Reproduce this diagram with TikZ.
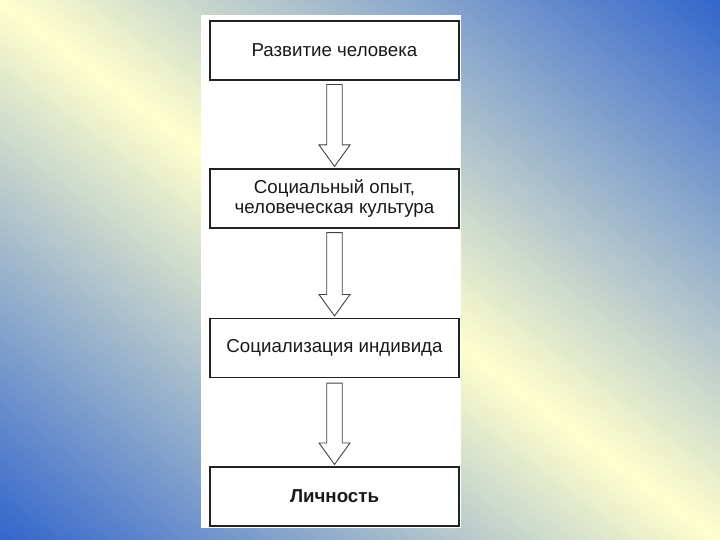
\documentclass[tikz,border=0pt]{standalone}
\usepackage{fontspec}
\setmainfont{Liberation Sans}
\usetikzlibrary{calc}
\definecolor{yel}{RGB}{255,255,204}
\definecolor{blu}{RGB}{51,102,204}
\definecolor{edge}{RGB}{34,34,34}
\definecolor{ink}{RGB}{25,25,25}
\tikzset{
  box/.style={draw=edge, line width=1.1pt, fill=white, minimum width=249pt, minimum height=59pt,
    inner sep=0pt, align=center, text=ink, font=\fontsize{18.7}{19.5}\selectfont},
  arr/.style={draw=edge!85, line width=0.9pt, fill=white, line join=miter},
}
\newcommand\blockarrow[3]{%
  \draw[arr] ($(#1.south)+(-7.75,#3)$) -- ($(#1.south)+(7.75,#3)$)
    -- ($(#2.north)+(7.75,-23.5)$) -- ($(#2.north)+(15.5,-23.5)$)
    -- ($(#2.north)+(0,-2)$)
    -- ($(#2.north)+(-15.5,-23.5)$) -- ($(#2.north)+(-7.75,-23.5)$) -- cycle;}
\begin{document}
\begin{tikzpicture}[x=1pt,y=-1pt]
\useasboundingbox (0,0) rectangle (720,540);
\begin{scope}
\clip (0,0) rectangle (720,540);
\foreach \i in {0,...,199}{
  \pgfmathsetmacro\a{-1+\i/100}
  \pgfmathsetmacro\b{\a+0.012}
  \pgfmathsetmacro\p{100*(1-abs(\a+0.005))}
  \fill[yel!\p!blu] ({720*(\a-1)},-540) -- ({720*(\a+2)},1080) -- ({720*(\b+2)},1080) -- ({720*(\b-1)},-540) -- cycle;
}
\end{scope}
\fill[white] (201,15) rectangle (461,528);
\node[box] (b1) at (334.5,50.5) {Развитие человека};
\node[box] (b2) at (334.5,198.5) {Социальный опыт,\\человеческая культура};
\node[box] (b3) at (334.5,348) {Социализация индивида};
\node[box, font=\fontsize{18.7}{19.5}\selectfont\bfseries] (b4) at (334.5,496.5) {Личность};
\blockarrow{b1}{b2}{4}
\blockarrow{b2}{b3}{4}
\blockarrow{b3}{b4}{5}
\end{tikzpicture}
\end{document}
